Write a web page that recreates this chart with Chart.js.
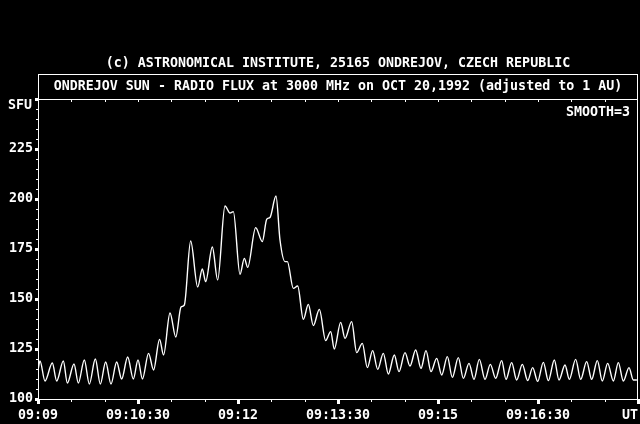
<!DOCTYPE html>
<html>
<head>
<meta charset="utf-8">
<script src="https://cdn.jsdelivr.net/npm/chart.js@4"></script>
<style>
  html, body { margin: 0; padding: 0; background: #000; }
  #wrap { width: 640px; height: 424px; }
</style>
</head>
<body>
<div id="wrap"><canvas id="fluxChart" width="640" height="424"></canvas></div>
<script>
// Flux readings, seconds after 09:09:00 UT
const seconds = [
  0, 1.8, 6.3, 12.9, 16.8, 22.8, 26.4, 32.4, 36.3, 41.7, 46.2, 51.6, 56.1, 60.9, 65.7,
  70.8, 75.3, 80.7, 85.8, 90, 94, 99.5, 104, 109.4, 113, 118.8, 124, 128.7, 131.7,
  137.4, 143.7, 147.9, 150.9, 156.9, 161.7, 168.3, 172.8, 175.8, 181.8, 185.7, 188.7,
  195.9, 201.9, 205.8, 208.8, 214.2, 217.8, 222.3, 224.4, 229.8, 233.7, 238.8, 243.3,
  247.8, 253.2, 258.9, 263.4, 266.7, 272.4, 276.3, 282.3, 286.8, 291.9, 296.4, 301.2,
  305.7, 310.8, 315.3, 320.7, 324.9, 330.3, 334.8, 339.9, 344.7, 349.2, 353.7, 358.8,
  363.3, 368.4, 372.9, 378.3, 382.8, 387.9, 392.4, 397.2, 402.3, 407.1, 411.9, 417.3,
  421.2, 426.3, 430.8, 435.9, 440.7, 445.2, 449.7, 454.8, 459.3, 464.7, 468.9, 474.3,
  478.2, 483.9, 488.4, 493.8, 498.3, 503.4, 507.9, 512.7, 517.8, 522.3, 526.8, 531.9,
  535.8, 539
];
const flux = [
  114.5, 119, 109, 118, 109, 119, 108, 117.5, 108, 119.5, 107.5, 120, 107.5, 118.5, 107.5,
  118.5, 110, 121, 110, 119.5, 110, 122.8, 114.5, 129.8, 122, 143, 131, 146, 147,
  179, 156, 165, 158.7, 176, 159.5, 196.5, 193, 193.7, 162.3, 170.3, 165.8,
  185.7, 178.7, 189.8, 190.8, 201.5, 179.5, 168.7, 168.7, 155.3, 156.5, 139.8, 147.3,
  136.7, 144.8, 129.2, 133.7, 125, 138.3, 130.3, 138.7, 123.2, 127.8, 115.7, 124.2,
  114.8, 122.8, 112.5, 122, 113.7, 123.2, 116.5, 124.5, 115.3, 124.2, 113.7, 120.3,
  112, 121.2, 110.8, 120.7, 110.3, 117.8, 109.8, 119.8, 109.8, 117.3, 110.3, 119.2,
  109.8, 118.2, 109.5, 117.3, 109.2, 115.7, 108.8, 118.3, 109.2, 119.5, 109.5, 117,
  109.8, 119.8, 109.8, 118.7, 109.8, 119.2, 109, 117.8, 109, 118.2, 109, 115.7,
  109.5, 109.5
];

// Axis labels
const timeTicks = [0, 90, 180, 270, 360, 450, 540];
const timeLabels = ['09:09', '09:10:30', '09:12', '09:13:30', '09:15', '09:16:30', 'UT'];
const fluxTicks = [100, 125, 150, 175, 200, 225];

const monoFont = { family: '"DejaVu Sans Mono", "Liberation Mono", monospace', size: 13.3, weight: 'bold' };

// frame, title box, tick marks and extra texts
const framePlugin = {
  id: 'frame',
  beforeDraw(chart) {
    const ctx = chart.ctx;
    ctx.save();
    ctx.fillStyle = '#000';
    ctx.fillRect(0, 0, chart.width, chart.height);
    ctx.restore();
  },
  afterDraw(chart) {
    const ctx = chart.ctx;
    const ca = chart.chartArea;
    const xs = chart.scales.x, ys = chart.scales.y;
    const L = Math.round(ca.left), R = Math.round(ca.right);
    const T = Math.round(ca.top), B = Math.round(ca.bottom);
    const boxTop = 74;

    ctx.save();
    ctx.strokeStyle = '#fff';
    ctx.fillStyle = '#fff';
    ctx.lineWidth = 1;
    ctx.beginPath();
    ctx.moveTo(L + 0.5, boxTop); ctx.lineTo(L + 0.5, B + 1);
    ctx.moveTo(R - 0.5, boxTop); ctx.lineTo(R - 0.5, B + 1);
    ctx.moveTo(L, boxTop + 0.5); ctx.lineTo(R, boxTop + 0.5);
    ctx.moveTo(L, T + 0.5); ctx.lineTo(R, T + 0.5);
    ctx.moveTo(L, B + 0.5); ctx.lineTo(chart.width, B + 0.5);
    ctx.stroke();

    // y ticks every 5 SFU
    for (let v = ys.min; v <= ys.max; v += 5) {
      const py = Math.round(ys.getPixelForValue(v));
      if (v % 25 === 0) ctx.fillRect(L - 3, py - 1, 3, 3);
      else ctx.fillRect(L - 2, py, 2, 1);
    }
    // x ticks every 30 s
    for (let s = xs.min; s <= xs.max; s += 30) {
      const px = Math.round(xs.getPixelForValue(s));
      if (s % 90 === 0) ctx.fillRect(px - 1, B + 1, 3, 4);
      else ctx.fillRect(px, B + 1, 1, 2);
      if (s > xs.min && s < xs.max) ctx.fillRect(px, T + 1, 1, 2);
    }

    ctx.font = 'bold 13.3px ' + monoFont.family;
    ctx.textBaseline = 'middle';
    ctx.textAlign = 'center';
    ctx.fillText('(c) ASTRONOMICAL INSTITUTE, 25165 ONDREJOV, CZECH REPUBLIC', (L + R) / 2, 64);
    ctx.fillText('ONDREJOV SUN - RADIO FLUX at 3000 MHz on OCT 20,1992 (adjusted to 1 AU)', (L + R) / 2, 87);
    ctx.textAlign = 'left';
    ctx.fillText('SFU', 8, 106);
    ctx.textAlign = 'right';
    ctx.fillText('SMOOTH=3', 630, 113);
    ctx.restore();
  }
};

const ctx = document.getElementById('fluxChart').getContext('2d');
new Chart(ctx, {
  type: 'line',
  data: {
    datasets: [{
      data: seconds.map((s, i) => ({ x: s, y: flux[i] })),
      borderColor: '#fff',
      borderWidth: 1.4,
      pointRadius: 0,
      fill: false,
      cubicInterpolationMode: 'monotone'
    }]
  },
  options: {
    responsive: false,
    animation: false,
    layout: { padding: { top: 99, left: 0, right: 2, bottom: 0 } },
    plugins: {
      legend: { display: false },
      tooltip: { enabled: false }
    },
    scales: {
      x: {
        type: 'linear',
        min: 0,
        max: 540,
        grid: { display: false, drawTicks: false, tickLength: 0 },
        border: { display: false },
        ticks: {
          stepSize: 30,
          autoSkip: false,
          maxRotation: 0,
          padding: 9,
          color: '#fff',
          font: monoFont,
          callback: (v) => {
            const i = timeTicks.indexOf(v);
            if (i < 0) return '';
            return i === timeTicks.length - 1 ? timeLabels[i] + '\u00a0\u00a0' : timeLabels[i];
          }
        },
        afterFit: (s) => { s.height = 25; s.paddingLeft = 0; s.paddingRight = 0; }
      },
      y: {
        min: 100,
        max: 250,
        grid: { display: false, drawTicks: false, tickLength: 0 },
        border: { display: false },
        ticks: {
          stepSize: 5,
          autoSkip: false,
          padding: 5,
          color: '#fff',
          font: monoFont,
          callback: (v) => fluxTicks.includes(v) ? String(v) : ''
        },
        afterFit: (s) => { s.width = 38; s.paddingTop = 0; s.paddingBottom = 0; }
      }
    }
  },
  plugins: [framePlugin]
});
</script>
</body>
</html>
